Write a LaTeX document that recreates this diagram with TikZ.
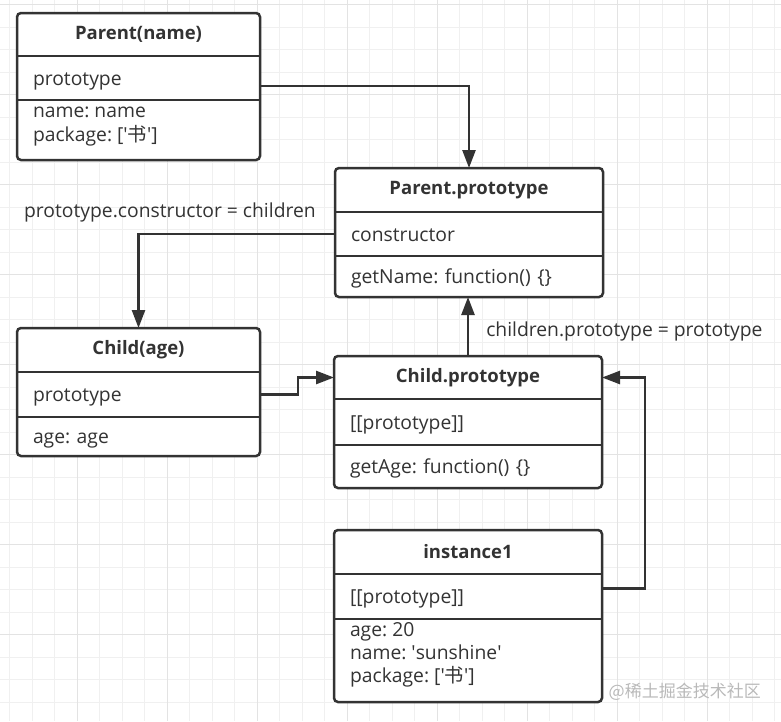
\documentclass[tikz,border=0pt]{standalone}
\usepackage{fontspec}
\setmainfont{Open Sans}
\newfontfamily\cjk{Noto Sans CJK SC}
\usetikzlibrary{positioning,arrows.meta}
\definecolor{ink}{HTML}{333333}
\definecolor{gridminor}{HTML}{F0F0F0}
\definecolor{gridmajor}{HTML}{E3E3E3}
\newcommand{\shu}{{\cjk 书}}
\newcommand{\sq}{\textquotesingle}
\frenchspacing

\begin{document}
\begin{tikzpicture}
    [x=1pt, y=-1pt,
    minorline/.style={draw=gridminor, line width=1pt},
    majorline/.style={draw=gridmajor, line width=1pt},
    hd/.style={fill=white, inner sep=0pt, outer sep=0pt, minimum width=#1, minimum height=44pt,
      text=ink, font=\bfseries\fontsize{18.5}{23}\selectfont},
    fld/.style={fill=white, inner xsep=16pt, inner ysep=0pt, outer sep=0pt, text width=#1,
      text height=15pt, text depth=1pt, minimum height=44pt, align=left, text=ink,
      font=\fontsize{19.3}{23}\selectfont},
    fldtxt/.style={inner xsep=16pt, inner ysep=1.5pt, outer sep=0pt, anchor=north west,
      align=left, text=ink, font=\fontsize{19.3}{23}\selectfont},
    boxline/.style={draw=ink, line width=2.5pt, rounded corners=4pt},
    divider/.style={draw=ink, line width=2.5pt},
    conn/.style={draw=ink, line width=2.5pt, -{Triangle[length=18pt,width=13pt]}},
    lbl/.style={inner sep=0pt, text=ink, font=\fontsize{19.3}{23}\selectfont}]
    \useasboundingbox (0,0) rectangle (781,721);
    \foreach \i in {0,...,34}
      \draw[minorline] (9.8+22.5*\i,0) -- (9.8+22.5*\i,721);
    \foreach \j in {0,...,31}
      \draw[minorline] (0,4.7+22.5*\j) -- (781,4.7+22.5*\j);
    \foreach \i in {0,...,7}
      \draw[majorline] (77.3+90*\i,0) -- (77.3+90*\i,721) (0,4.7+90*\i) -- (781,4.7+90*\i);

    \node[hd=243pt, minimum height=43pt, anchor=north west] (pn) at (17,13) {Parent(name)};
    \node[fld=211pt, below=0pt of pn] (pnA) {prototype};
    \node[fld=211pt, minimum height=60pt, below=0pt of pnA] (pnB) {};
    \node[fldtxt] (pnBt) at (pnB.north west) {\strut name: name\\package: [\sq\shu\sq]};

    \node[hd=268pt, anchor=north west] (pp) at (335,168) {Parent.prototype};
    \node[fld=236pt, below=0pt of pp] (ppA) {constructor};
    \node[fld=236pt, minimum height=41pt, below=0pt of ppA] (ppB) {getName: function() \{\}};

    \node[hd=243pt, anchor=north west] (ca) at (17,328) {Child(age)};
    \node[fld=211pt, minimum height=45pt, below=0pt of ca] (caA) {prototype};
    \node[fld=211pt, minimum height=39pt, below=0pt of caA] (caB) {age: age};

    \node[hd=268pt, minimum height=43pt, anchor=north west] (cp) at (334,356) {Child.prototype};
    \node[fld=236pt, minimum height=46pt, below=0pt of cp] (cpA) {[[prototype]]};
    \node[fld=236pt, minimum height=43pt, below=0pt of cpA] (cpB) {getAge: function() \{\}};

    \node[hd=268pt, anchor=north west] (ip) at (334,530) {instance1};
    \node[fld=236pt, minimum height=45pt, below=0pt of ip] (ipA) {[[prototype]]};
    \node[fld=236pt, minimum height=83pt, below=0pt of ipA] (ipB) {};
    \node[fldtxt] (ipBt) at (ipB.north west) {\strut age: 20\\name: \sq sunshine\sq\\package: [\sq\shu\sq]};

    \foreach \t/\b in {pn/pnB, pp/ppB, ca/caB, cp/cpB, ip/ipB}
      \draw[boxline] (\t.north west) rectangle (\b.south east);
    \foreach \r in {pnA, pnB, ppA, ppB, caA, caB, cpA, cpB, ipA, ipB}
      \draw[divider] (\r.north west) -- (\r.north east);

    \draw[conn] ([yshift=-8pt]pnA.east) -| (pp.north);
    \draw[conn] (ppA.west) -| (ca.north)
      node[lbl, pos=0, anchor=base east, xshift=-18pt, yshift=17pt] {prototype.constructor = children};
    \draw[conn] (caA.east) -- ++(38,0) |- (cp.west);
    \draw[conn] (cp.north) -- (cp.north |- ppB.south)
      node[lbl, midway, anchor=west, xshift=17pt, yshift=-5pt] {children.prototype = prototype};
    \draw[conn] ([yshift=8pt]ipA.east) -- ++(43,0) |- (cp.east);

    \node[inner sep=0pt, anchor=east, text=gray!55, font=\cjk\fontsize{17}{20}\selectfont] (wm)
      at (761,692) {@稀土掘金技术社区};
  \end{tikzpicture}
\end{document}
